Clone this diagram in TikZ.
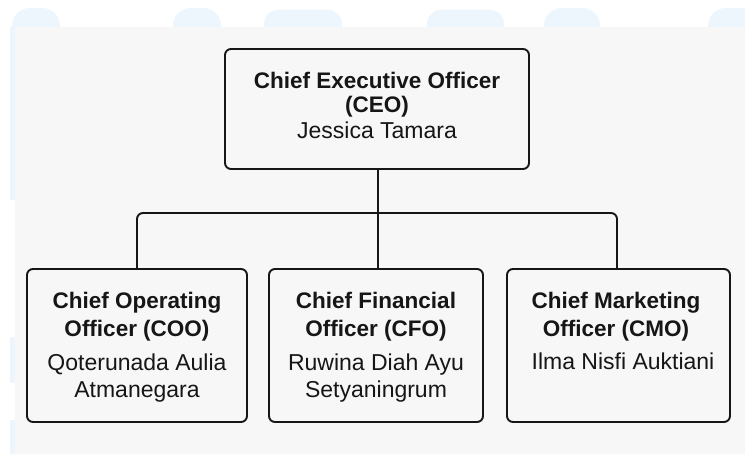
\documentclass[tikz,border=0pt]{standalone}
\usepackage{fontspec}
\setmainfont{Liberation Sans}
\definecolor{panel}{HTML}{F7F7F8}
\definecolor{bump}{HTML}{EDF5FD}
\definecolor{ink}{HTML}{161616}
\begin{document}
\begin{tikzpicture}[x=1pt,y=-1pt,
  box/.style={draw=ink,line width=1.9pt,rounded corners=6pt,fill=panel,inner sep=0pt,outer sep=0pt,anchor=north west},
  ttl/.style={anchor=base,inner sep=0pt,font=\fontsize{22.5}{25}\selectfont\bfseries,text=ink},
  nm/.style={anchor=base,inner sep=0pt,font=\fontsize{23}{25}\selectfont,text=ink},
  link/.style={draw=ink,line width=1.9pt,rounded corners=6pt}]
\useasboundingbox (0,0) rectangle (745,454);
\fill[white] (0,0) rectangle (745,454);
% faint background bumps
\fill[bump,rounded corners=18pt] (12,8) rectangle (60,60);
\fill[bump,rounded corners=18pt] (173,8) rectangle (221,60);
\fill[bump,rounded corners=14pt] (264,10) rectangle (342,60);
\fill[bump,rounded corners=14pt] (427,10) rectangle (504,60);
\fill[bump,rounded corners=18pt] (544,8) rectangle (600,60);
\fill[bump,rounded corners=18pt] (708,8) rectangle (760,60);
\fill[bump] (10,27) rectangle (16,200);
\fill[bump] (10,337) rectangle (15,383);
\fill[bump] (10,420) rectangle (15,454);
\fill[panel] (15,27) rectangle (745,454);
% boxes
\node[box,minimum width=304pt,minimum height=120pt] (ceo) at (225,49) {};
\node[box,minimum width=220pt,minimum height=153pt] (coo) at (27,269) {};
\node[box,minimum width=214pt,minimum height=153pt] (cfo) at (269,269) {};
\node[box,minimum width=223pt,minimum height=153pt] (cmo) at (507,269) {};
% texts
\node[ttl] (ceo1) at (377,89) {Chief Executive Officer};
\node[ttl] (ceo2) at (377,113) {(CEO)};
\node[nm]  (ceo3) at (377,139) {Jessica Tamara};
\node[ttl] (coo1) at (137,309) {Chief Operating};
\node[ttl] (coo2) at (137,337) {Officer (COO)};
\node[nm]  (coo3) at (137,371) {Qoterunada Aulia};
\node[nm]  (coo4) at (137,398) {Atmanegara};
\node[ttl] (cfo1) at (376,309) {Chief Financial};
\node[ttl] (cfo2) at (376,337) {Officer (CFO)};
\node[nm]  (cfo3) at (376,371) {Ruwina Diah Ayu};
\node[nm]  (cfo4) at (376,398) {Setyaningrum};
\node[ttl] (cmo1) at (616,309) {Chief Marketing};
\node[ttl] (cmo2) at (616,337) {Officer (CMO)};
\node[nm]  (cmo3) at (623,370) {Ilma Nisfi Auktiani};
% connectors
\coordinate (bus) at (378,213);
\draw[link] (ceo.south -| bus) -- (bus |- cfo.north);
\draw[link] (coo.north -| 137,0) |- (bus) -| (cmo.north -| 617,0);
\end{tikzpicture}
\end{document}
